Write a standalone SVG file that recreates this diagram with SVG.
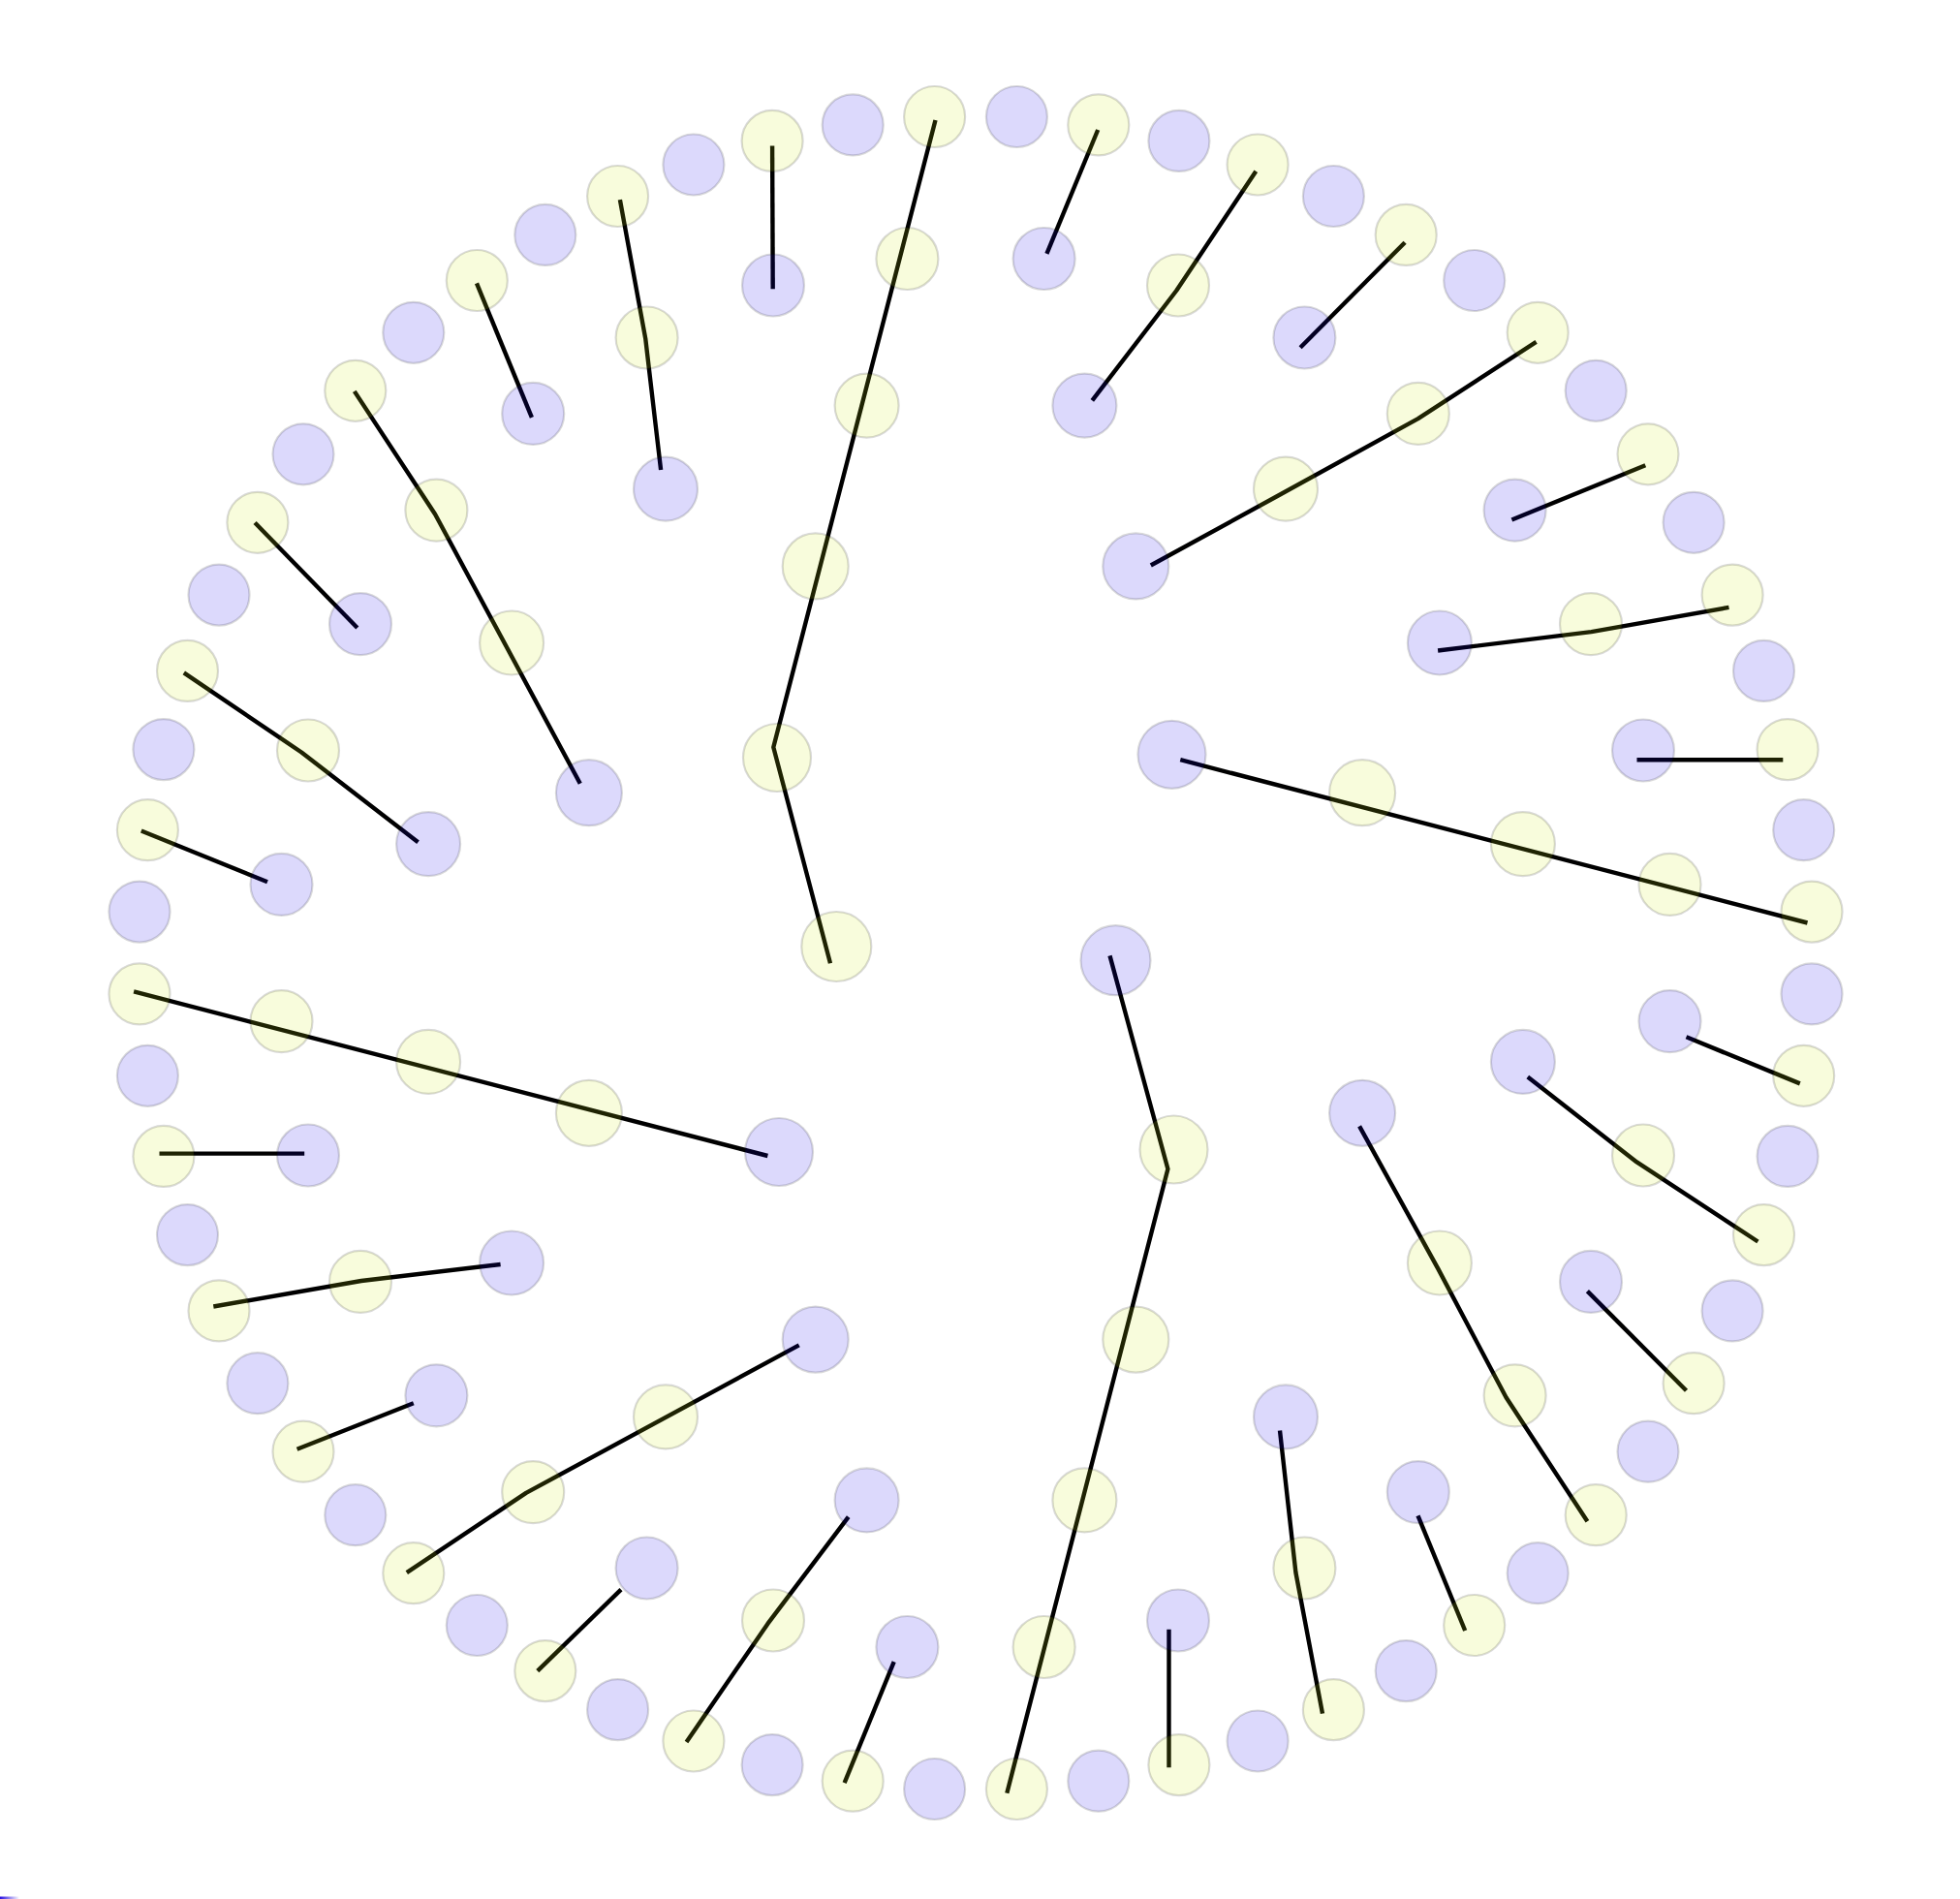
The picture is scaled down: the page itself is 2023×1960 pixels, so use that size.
<svg xmlns="http://www.w3.org/2000/svg" width="2023" height="1960" viewBox="0 0 2023 1960">
<defs>
<style>
.ln{fill:none;stroke:#000;stroke-width:4.4;stroke-linejoin:round;stroke-linecap:butt}
.p{fill:rgb(22,0,235);fill-opacity:0.15;stroke:#000;stroke-opacity:0.15;stroke-width:2.2}
.y{fill:rgb(208,235,22);fill-opacity:0.15;stroke:#000;stroke-opacity:0.15;stroke-width:2.2}
</style>
<linearGradient id="art" x1="0" y1="0" x2="1" y2="0">
<stop offset="0" stop-color="#2a10e0"/>
<stop offset="1" stop-color="#2a10e0" stop-opacity="0"/>
</linearGradient>
</defs>
<rect width="2023" height="1960" fill="#fff"/>
<g id="connectors">
<path class="ln" d="M797.1,150.4 L797.7,298.3"/>
<path class="ln" d="M965.5,124 L798.3,771.2 L857,994.2"/>
<path class="ln" d="M1133.2,134 L1080.4,261.9"/>
<path class="ln" d="M1296.3,176.8 L1214.2,300 L1127.3,413.3"/>
<path class="ln" d="M1450.1,250.2 L1342.1,358.7"/>
<path class="ln" d="M1585.6,352.9 L1463.6,432.1 L1319.8,511.3 L1187.8,583.5"/>
<path class="ln" d="M1698.3,480.2 L1560.4,536.5"/>
<path class="ln" d="M1784.5,626.9 L1642.5,652.1 L1484.1,671.5"/>
<path class="ln" d="M1840.3,784.2 L1689.5,784.2"/>
<path class="ln" d="M1218.3,784.2 L1865.5,952.5"/>
<path class="ln" d="M1857.8,1118.4 L1740.5,1070.3"/>
<path class="ln" d="M1814.4,1281.5 L1689.4,1199.4 L1576.8,1111.4"/>
<path class="ln" d="M1638.4,1570.3 L1554.5,1442.3 L1484.1,1309.1 L1403.1,1162.4"/>
<path class="ln" d="M1740.5,1435.3 L1638.4,1332.6"/>
<path class="ln" d="M1145.5,986.4 L1205.4,1206.5 L1039.3,1850.7"/>
<path class="ln" d="M1365,1768.6 L1337.4,1623 L1321,1476.4"/>
<path class="ln" d="M1512.2,1683 L1463.5,1564.4"/>
<path class="ln" d="M1206.5,1824.3 L1206.5,1681.8"/>
<path class="ln" d="M871.6,1840.2 L922.7,1715.2"/>
<path class="ln" d="M708.5,1798 L792.4,1675.9 L875.7,1565.6"/>
<path class="ln" d="M554.8,1724.6 L641,1640.7"/>
<path class="ln" d="M419.8,1623.1 L543,1540.9 L824.7,1388.4"/>
<path class="ln" d="M306.6,1495.7 L426.8,1448.2"/>
<path class="ln" d="M220.3,1348.5 L372.9,1322 L516.6,1305"/>
<path class="ln" d="M164.5,1190.6 L314.2,1190.6"/>
<path class="ln" d="M138.1,1023.4 L792.4,1193"/>
<path class="ln" d="M145.8,857.5 L276,910.3"/>
<path class="ln" d="M189.8,694.4 L311.2,776.5 L431.5,869.2"/>
<path class="ln" d="M365.8,403.9 L449.1,530.7 L598.8,808.8"/>
<path class="ln" d="M263.1,539.5 L368.8,648"/>
<path class="ln" d="M492,292.4 L548.9,430.9"/>
<path class="ln" d="M639.9,206.2 L666.3,349.9 L682.1,484.9"/>
</g>
<g id="nodes">
<g id="r6_n1"><circle class="p" cx="1870" cy="1025.9" r="31.5"/></g>
<g id="r6_n3"><circle class="y" cx="1861.7" cy="1110.3" r="31.5"/></g>
<g id="r6_n5"><circle class="p" cx="1845.1" cy="1193.4" r="31.5"/></g>
<g id="r6_n7"><circle class="y" cx="1820.5" cy="1274.6" r="31.5"/></g>
<g id="r6_n9"><circle class="p" cx="1788.1" cy="1352.9" r="31.5"/></g>
<g id="r6_n11"><circle class="y" cx="1748.1" cy="1427.7" r="31.5"/></g>
<g id="r6_n13"><circle class="p" cx="1701" cy="1498.2" r="31.5"/></g>
<g id="r6_n15"><circle class="y" cx="1647.2" cy="1563.7" r="31.5"/></g>
<g id="r6_n17"><circle class="p" cx="1587.2" cy="1623.7" r="31.5"/></g>
<g id="r6_n19"><circle class="y" cx="1521.7" cy="1677.5" r="31.5"/></g>
<g id="r6_n21"><circle class="p" cx="1451.2" cy="1724.6" r="31.5"/></g>
<g id="r6_n23"><circle class="y" cx="1376.4" cy="1764.6" r="31.5"/></g>
<g id="r6_n25"><circle class="p" cx="1298.1" cy="1797" r="31.5"/></g>
<g id="r6_n27"><circle class="y" cx="1216.9" cy="1821.6" r="31.5"/></g>
<g id="r6_n29"><circle class="p" cx="1133.8" cy="1838.2" r="31.5"/></g>
<g id="r6_n31"><circle class="y" cx="1049.4" cy="1846.5" r="31.5"/></g>
<g id="r6_n33"><circle class="p" cx="964.6" cy="1846.5" r="31.5"/></g>
<g id="r6_n35"><circle class="y" cx="880.2" cy="1838.2" r="31.5"/></g>
<g id="r6_n37"><circle class="p" cx="797.1" cy="1821.6" r="31.5"/></g>
<g id="r6_n39"><circle class="y" cx="715.9" cy="1797" r="31.5"/></g>
<g id="r6_n41"><circle class="p" cx="637.6" cy="1764.6" r="31.5"/></g>
<g id="r6_n43"><circle class="y" cx="562.8" cy="1724.6" r="31.5"/></g>
<g id="r6_n45"><circle class="p" cx="492.3" cy="1677.5" r="31.5"/></g>
<g id="r6_n47"><circle class="y" cx="426.8" cy="1623.7" r="31.5"/></g>
<g id="r6_n49"><circle class="p" cx="366.8" cy="1563.7" r="31.5"/></g>
<g id="r6_n51"><circle class="y" cx="313" cy="1498.2" r="31.5"/></g>
<g id="r6_n53"><circle class="p" cx="265.9" cy="1427.7" r="31.5"/></g>
<g id="r6_n55"><circle class="y" cx="226" cy="1352.9" r="31.5"/></g>
<g id="r6_n57"><circle class="p" cx="193.5" cy="1274.6" r="31.5"/></g>
<g id="r6_n59"><circle class="y" cx="168.9" cy="1193.4" r="31.5"/></g>
<g id="r6_n61"><circle class="p" cx="152.4" cy="1110.3" r="31.5"/></g>
<g id="r6_n63"><circle class="y" cx="144" cy="1025.9" r="31.5"/></g>
<g id="r6_n-1"><circle class="y" cx="1870" cy="941.1" r="31.5"/></g>
<g id="r6_n-3"><circle class="p" cx="1861.7" cy="856.7" r="31.5"/></g>
<g id="r6_n-5"><circle class="y" cx="1845.1" cy="773.6" r="31.5"/></g>
<g id="r6_n-7"><circle class="p" cx="1820.5" cy="692.4" r="31.5"/></g>
<g id="r6_n-9"><circle class="y" cx="1788.1" cy="614.1" r="31.5"/></g>
<g id="r6_n-11"><circle class="p" cx="1748.1" cy="539.3" r="31.5"/></g>
<g id="r6_n-13"><circle class="y" cx="1701" cy="468.8" r="31.5"/></g>
<g id="r6_n-15"><circle class="p" cx="1647.2" cy="403.3" r="31.5"/></g>
<g id="r6_n-17"><circle class="y" cx="1587.2" cy="343.3" r="31.5"/></g>
<g id="r6_n-19"><circle class="p" cx="1521.7" cy="289.5" r="31.5"/></g>
<g id="r6_n-21"><circle class="y" cx="1451.2" cy="242.4" r="31.5"/></g>
<g id="r6_n-23"><circle class="p" cx="1376.4" cy="202.5" r="31.5"/></g>
<g id="r6_n-25"><circle class="y" cx="1298.1" cy="170" r="31.5"/></g>
<g id="r6_n-27"><circle class="p" cx="1216.9" cy="145.4" r="31.5"/></g>
<g id="r6_n-29"><circle class="y" cx="1133.8" cy="128.9" r="31.5"/></g>
<g id="r6_n-31"><circle class="p" cx="1049.4" cy="120.5" r="31.5"/></g>
<g id="r6_n-33"><circle class="y" cx="964.6" cy="120.5" r="31.5"/></g>
<g id="r6_n-35"><circle class="p" cx="880.2" cy="128.9" r="31.5"/></g>
<g id="r6_n-37"><circle class="y" cx="797.1" cy="145.4" r="31.5"/></g>
<g id="r6_n-39"><circle class="p" cx="715.9" cy="170" r="31.5"/></g>
<g id="r6_n-41"><circle class="y" cx="637.6" cy="202.5" r="31.5"/></g>
<g id="r6_n-43"><circle class="p" cx="562.8" cy="242.4" r="31.5"/></g>
<g id="r6_n-45"><circle class="y" cx="492.3" cy="289.5" r="31.5"/></g>
<g id="r6_n-47"><circle class="p" cx="426.8" cy="343.3" r="31.5"/></g>
<g id="r6_n-49"><circle class="y" cx="366.8" cy="403.3" r="31.5"/></g>
<g id="r6_n-51"><circle class="p" cx="313" cy="468.8" r="31.5"/></g>
<g id="r6_n-53"><circle class="y" cx="265.9" cy="539.3" r="31.5"/></g>
<g id="r6_n-55"><circle class="p" cx="226" cy="614.1" r="31.5"/></g>
<g id="r6_n-57"><circle class="y" cx="193.5" cy="692.4" r="31.5"/></g>
<g id="r6_n-59"><circle class="p" cx="168.9" cy="773.6" r="31.5"/></g>
<g id="r6_n-61"><circle class="y" cx="152.4" cy="856.7" r="31.5"/></g>
<g id="r6_n-63"><circle class="p" cx="144" cy="941.1" r="31.5"/></g>
<g id="r5_n2"><circle class="p" cx="1723.5" cy="1054.1" r="32"/></g>
<g id="r5_n6"><circle class="y" cx="1696" cy="1192.5" r="32"/></g>
<g id="r5_n10"><circle class="p" cx="1642" cy="1322.9" r="32"/></g>
<g id="r5_n14"><circle class="y" cx="1563.6" cy="1440.3" r="32"/></g>
<g id="r5_n18"><circle class="p" cx="1463.8" cy="1540.1" r="32"/></g>
<g id="r5_n22"><circle class="y" cx="1346.4" cy="1618.5" r="32"/></g>
<g id="r5_n26"><circle class="p" cx="1216" cy="1672.5" r="32"/></g>
<g id="r5_n30"><circle class="y" cx="1077.6" cy="1700" r="32"/></g>
<g id="r5_n34"><circle class="p" cx="936.4" cy="1700" r="32"/></g>
<g id="r5_n38"><circle class="y" cx="798" cy="1672.5" r="32"/></g>
<g id="r5_n42"><circle class="p" cx="667.6" cy="1618.5" r="32"/></g>
<g id="r5_n46"><circle class="y" cx="550.2" cy="1540.1" r="32"/></g>
<g id="r5_n50"><circle class="p" cx="450.4" cy="1440.3" r="32"/></g>
<g id="r5_n54"><circle class="y" cx="372" cy="1322.9" r="32"/></g>
<g id="r5_n58"><circle class="p" cx="318" cy="1192.5" r="32"/></g>
<g id="r5_n62"><circle class="y" cx="290.5" cy="1054.1" r="32"/></g>
<g id="r5_n-2"><circle class="y" cx="1723.5" cy="912.9" r="32"/></g>
<g id="r5_n-6"><circle class="p" cx="1696" cy="774.5" r="32"/></g>
<g id="r5_n-10"><circle class="y" cx="1642" cy="644.1" r="32"/></g>
<g id="r5_n-14"><circle class="p" cx="1563.6" cy="526.7" r="32"/></g>
<g id="r5_n-18"><circle class="y" cx="1463.8" cy="426.9" r="32"/></g>
<g id="r5_n-22"><circle class="p" cx="1346.4" cy="348.5" r="32"/></g>
<g id="r5_n-26"><circle class="y" cx="1216" cy="294.5" r="32"/></g>
<g id="r5_n-30"><circle class="p" cx="1077.6" cy="267" r="32"/></g>
<g id="r5_n-34"><circle class="y" cx="936.4" cy="267" r="32"/></g>
<g id="r5_n-38"><circle class="p" cx="798" cy="294.5" r="32"/></g>
<g id="r5_n-42"><circle class="y" cx="667.6" cy="348.5" r="32"/></g>
<g id="r5_n-46"><circle class="p" cx="550.2" cy="426.9" r="32"/></g>
<g id="r5_n-50"><circle class="y" cx="450.4" cy="526.7" r="32"/></g>
<g id="r5_n-54"><circle class="p" cx="372" cy="644.1" r="32"/></g>
<g id="r5_n-58"><circle class="y" cx="318" cy="774.5" r="32"/></g>
<g id="r5_n-62"><circle class="p" cx="290.5" cy="912.9" r="32"/></g>
<g id="r4_n4"><circle class="p" cx="1571.9" cy="1095.9" r="33"/></g>
<g id="r4_n12"><circle class="y" cx="1485.9" cy="1303.5" r="33"/></g>
<g id="r4_n20"><circle class="p" cx="1327" cy="1462.4" r="33"/></g>
<g id="r4_n28"><circle class="y" cx="1119.4" cy="1548.4" r="33"/></g>
<g id="r4_n36"><circle class="p" cx="894.6" cy="1548.4" r="33"/></g>
<g id="r4_n44"><circle class="y" cx="687" cy="1462.4" r="33"/></g>
<g id="r4_n52"><circle class="p" cx="528.1" cy="1303.5" r="33"/></g>
<g id="r4_n60"><circle class="y" cx="442.1" cy="1095.9" r="33"/></g>
<g id="r4_n-4"><circle class="y" cx="1571.9" cy="871.1" r="33"/></g>
<g id="r4_n-12"><circle class="p" cx="1485.9" cy="663.5" r="33"/></g>
<g id="r4_n-20"><circle class="y" cx="1327" cy="504.6" r="33"/></g>
<g id="r4_n-28"><circle class="p" cx="1119.4" cy="418.6" r="33"/></g>
<g id="r4_n-36"><circle class="y" cx="894.6" cy="418.6" r="33"/></g>
<g id="r4_n-44"><circle class="p" cx="687" cy="504.6" r="33"/></g>
<g id="r4_n-52"><circle class="y" cx="528.1" cy="663.5" r="33"/></g>
<g id="r4_n-60"><circle class="p" cx="442.1" cy="871.1" r="33"/></g>
<g id="r3_n8"><circle class="p" cx="1406.1" cy="1148.8" r="34"/></g>
<g id="r3_n24"><circle class="y" cx="1172.3" cy="1382.6" r="34"/></g>
<g id="r3_n40"><circle class="p" cx="841.7" cy="1382.6" r="34"/></g>
<g id="r3_n56"><circle class="y" cx="607.9" cy="1148.8" r="34"/></g>
<g id="r3_n-8"><circle class="y" cx="1406.1" cy="818.2" r="34"/></g>
<g id="r3_n-24"><circle class="p" cx="1172.3" cy="584.4" r="34"/></g>
<g id="r3_n-40"><circle class="y" cx="841.7" cy="584.4" r="34"/></g>
<g id="r3_n-56"><circle class="p" cx="607.9" cy="818.2" r="34"/></g>
<g id="r2_n16"><circle class="y" cx="1211.5" cy="1186.5" r="35"/></g>
<g id="r2_n48"><circle class="p" cx="804" cy="1189" r="35"/></g>
<g id="r2_n-16"><circle class="p" cx="1209.5" cy="778.8" r="35"/></g>
<g id="r2_n-48"><circle class="y" cx="802" cy="782" r="35"/></g>
<g id="r1_n1"><circle class="p" cx="1151.5" cy="991.2" r="36"/></g>
<g id="r1_n-63"><circle class="y" cx="863.3" cy="977" r="36"/></g>
</g>
<rect x="0" y="1957.5" width="20" height="2.5" fill="url(#art)"/>
</svg>
